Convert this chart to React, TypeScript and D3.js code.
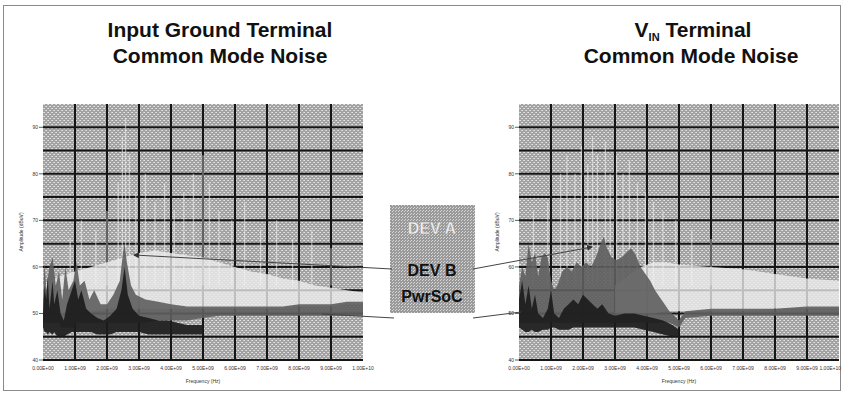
import * as d3 from 'd3'

// [frequency GHz, low dB, high dB]
type Band = [number, number, number]
// [frequency GHz, peak dB]
type Spike = [number, number]

const freqTicks = [
  '0.00E+00', '1.00E+09', '2.00E+09', '3.00E+09', '4.00E+09', '5.00E+09',
  '6.00E+09', '7.00E+09', '8.00E+09', '9.00E+09', '1.00E+10',
]
const dbTicks = [40, 50, 60, 70, 80, 90]
const legendNames = ['DEV A', 'DEV B', 'PwrSoC']

const leftDevA: Band[] = [
  [0.0, 50, 56], [0.5, 50, 58], [1.0, 50, 59], [1.5, 50.5, 60], [2.0, 51, 61],
  [2.5, 51, 62], [3.0, 51, 63], [3.5, 51, 63.5], [4.0, 51, 63], [4.5, 51, 62.5],
  [5.0, 51, 62], [5.5, 51, 61], [6.0, 51, 60], [6.5, 51, 59], [7.0, 51, 58.5],
  [7.5, 51, 57.5], [8.0, 51.5, 57], [8.5, 51.5, 56], [9.0, 51.5, 55.5],
  [9.5, 52, 55], [10, 52, 54.5],
]
const leftDevASpikes: Spike[] = [
  [0.85, 66], [1.2, 70], [1.65, 68], [2.0, 72], [2.35, 78], [2.48, 88], [2.58, 92],
  [2.7, 84], [2.9, 76], [3.2, 80], [3.5, 74], [3.8, 78], [4.1, 72], [4.4, 76],
  [4.7, 80], [5.0, 84], [5.2, 78], [5.5, 72], [5.9, 70], [6.3, 74], [6.8, 68],
  [7.3, 70], [7.8, 66], [8.4, 68], [9.0, 64],
]
const leftDevB: Band[] = [
  [0.0, 48, 53], [0.05, 48, 61], [0.1, 48, 55], [0.2, 48, 60], [0.3, 48, 62],
  [0.4, 48, 56], [0.5, 48, 59], [0.6, 47, 53], [0.7, 47, 60], [0.8, 47, 55],
  [0.95, 47, 57], [1.05, 48, 61], [1.15, 48, 56], [1.3, 48, 57], [1.45, 48, 53],
  [1.6, 48, 55], [1.8, 48, 52], [2.0, 48, 52], [2.2, 48, 54], [2.4, 48, 57],
  [2.5, 48, 63], [2.55, 48, 65], [2.62, 48, 61], [2.75, 48, 56], [2.9, 48, 54],
  [3.2, 48, 53], [3.6, 48.5, 52.5], [4.0, 48.5, 52], [4.5, 48.5, 51.5],
  [5.0, 49, 51.5], [5.5, 49.5, 51.5], [6.0, 49.5, 51.5], [6.5, 49.5, 51.5],
  [7.0, 49.5, 51.5], [7.5, 49.5, 51.5], [8.0, 49.5, 52], [8.5, 49.5, 52],
  [9.0, 49.5, 52], [9.5, 49.5, 52.5], [10, 49.5, 52.5],
]
const leftPwrSoC: Band[] = [
  [0.0, 47, 50], [0.05, 46, 56], [0.1, 46, 53], [0.15, 45.5, 58], [0.2, 46, 51],
  [0.3, 45.5, 57], [0.35, 46, 52], [0.45, 45, 55], [0.55, 45, 50], [0.65, 45, 48.5],
  [0.75, 45.5, 52], [0.9, 46, 55], [1.0, 46, 57], [1.1, 46, 53], [1.2, 46, 55],
  [1.35, 46, 51], [1.5, 46, 50], [1.7, 45.5, 49], [1.9, 45.5, 48.5], [2.1, 45.5, 49.5],
  [2.3, 46, 51], [2.45, 46, 55], [2.55, 46, 60], [2.65, 46, 54], [2.8, 46, 51],
  [3.0, 46, 49.5], [3.3, 45.5, 49], [3.6, 45.5, 48.5], [3.9, 45.5, 48.5],
  [4.2, 45.5, 48], [4.5, 45.5, 47.5], [4.8, 45.5, 47.5], [5.0, 45.5, 47.5],
]

const rightDevA: Band[] = [
  [3.0, 50, 56], [3.4, 50, 58], [3.8, 50, 60], [4.2, 50, 61], [4.6, 50.5, 61],
  [5.0, 50.5, 60.5], [6.0, 50.5, 60], [7.0, 50.5, 59.5], [8.0, 51, 58.5],
  [9.0, 51, 57.5], [10, 51, 57],
]
const rightDevASpikes: Spike[] = [
  [0.45, 72], [0.9, 74], [1.3, 80], [1.5, 84], [1.75, 80], [1.95, 86], [2.15, 82],
  [2.3, 88], [2.45, 84], [2.7, 87], [2.85, 80], [3.05, 84], [3.25, 80], [3.45, 83],
  [3.7, 78], [3.95, 76], [4.2, 74], [4.5, 72], [4.9, 70], [5.4, 68], [6.0, 66],
]
const rightDevB: Band[] = [
  [0.0, 48, 56], [0.1, 48, 60], [0.2, 48, 58], [0.3, 48, 65], [0.4, 48, 61],
  [0.5, 48, 63], [0.6, 48, 58], [0.7, 48, 62], [0.8, 48, 63], [0.9, 48, 62],
  [1.0, 48, 57], [1.1, 48, 55], [1.2, 48, 56], [1.35, 48, 59], [1.5, 48, 60],
  [1.65, 48, 59], [1.8, 48, 61], [1.95, 48, 60], [2.1, 48, 61], [2.25, 48, 60],
  [2.4, 48, 62], [2.55, 48, 65], [2.65, 48, 66.5], [2.75, 48, 64], [2.9, 48, 62],
  [3.05, 48, 61.5], [3.2, 48, 62], [3.35, 48, 63], [3.5, 48, 64], [3.65, 48, 62.5],
  [3.8, 48, 60], [3.95, 48, 58.5], [4.1, 48, 57], [4.25, 48, 55], [4.4, 48, 53.5],
  [4.55, 48, 52], [4.7, 48, 50.5], [4.85, 47.5, 49.5], [5.0, 47, 48.5],
  [5.2, 49, 50.5], [6.0, 49.5, 51], [7.0, 49.5, 51], [8.0, 49.5, 51],
  [9.0, 49.5, 51.5], [10, 49.5, 51.5],
]
const rightPwrSoC: Band[] = [
  [0.0, 47, 53], [0.1, 46.5, 57], [0.2, 46, 52], [0.3, 46, 56], [0.4, 46.5, 51],
  [0.5, 46, 54], [0.6, 46, 50], [0.75, 46.5, 49], [0.9, 46.5, 51], [1.0, 47, 55],
  [1.1, 47, 50], [1.25, 46.5, 49], [1.4, 46.5, 51], [1.55, 46.5, 52], [1.7, 47, 53],
  [1.85, 47, 52], [2.0, 47, 54], [2.15, 47, 53], [2.3, 47, 52], [2.45, 47, 51],
  [2.6, 47, 52], [2.8, 47, 50], [3.0, 47, 49.5], [3.3, 47, 50], [3.6, 47, 50],
  [3.9, 46.5, 49.5], [4.2, 46, 49], [4.5, 45.5, 48.5], [4.8, 45, 47.5], [5.0, 45, 46.5],
]

const FONT = '"Liberation Sans", Arial, sans-serif'
const PLOT_W = 320
const PLOT_TOP = 104
const PLOT_BOTTOM = 360

type ChartProps = {
  x0: number
  devA: Band[]
  devASpikes: Spike[]
  devB: Band[]
  pwrSoc: Band[]
}

const Chart = ({ x0, devA, devASpikes, devB, pwrSoc }: ChartProps) => {
  const x = d3.scaleLinear().domain([0, 10]).range([x0, x0 + PLOT_W])
  const y = d3.scaleLinear().domain([40, 95]).range([PLOT_BOTTOM, PLOT_TOP])
  const area = d3
    .area<Band>()
    .x(d => x(d[0]))
    .y0(d => y(d[1]))
    .y1(d => y(d[2]))

  const gridY = d3.range(45, 95, 5)
  const gridX = d3.range(1, 10)

  return (
    <g>
      <rect
        x={x0}
        y={PLOT_TOP}
        width={PLOT_W}
        height={PLOT_BOTTOM - PLOT_TOP}
        fill="url(#dither)"
      />
      {gridY.map(v => (
        <line key={'h' + v} x1={x0} x2={x0 + PLOT_W} y1={y(v)} y2={y(v)} stroke="#151515" strokeWidth={2} />
      ))}
      {gridX.map(v => (
        <line key={'v' + v} x1={x(v)} x2={x(v)} y1={PLOT_TOP} y2={PLOT_BOTTOM} stroke="#151515" strokeWidth={2} />
      ))}
      <path d={area(devA) ?? ''} fill="#eeeeee" opacity={0.78} />
      {devASpikes.map((s, i) => (
        <line
          key={i}
          x1={x(s[0])}
          x2={x(s[0])}
          y1={y(56)}
          y2={y(s[1])}
          stroke="#f2f2f2"
          strokeWidth={1.3}
          opacity={0.55}
        />
      ))}
      <path d={area(devB) ?? ''} fill="#5e5e5e" opacity={0.9} />
      <path d={area(pwrSoc) ?? ''} fill="#1c1c1c" opacity={0.92} />
      <line x1={x0} x2={x0 + PLOT_W} y1={PLOT_BOTTOM} y2={PLOT_BOTTOM} stroke="#151515" strokeWidth={2} />
      {dbTicks.map(v => (
        <g key={'t' + v}>
          <line x1={x0 - 4} x2={x0} y1={y(v)} y2={y(v)} stroke="#333" strokeWidth={0.8} />
          <text x={x0 - 5} y={y(v) + 1.8} fontSize={5} textAnchor="end" fill="#333" fontFamily={FONT}>
            {v}
          </text>
        </g>
      ))}
      {freqTicks.map((t, i) => {
        const tx = x(i)
        const atEdge = tx + 11 > 841
        return (
          <text
            key={t}
            x={atEdge ? 841 : tx}
            y={370}
            fontSize={5}
            textAnchor={atEdge ? 'end' : 'middle'}
            fill="#333"
            fontFamily={FONT}
          >
            {t}
          </text>
        )
      })}
      <text x={x(5)} y={383} fontSize={5} textAnchor="middle" fill="#333" fontFamily={FONT}>
        Frequency (Hz)
      </text>
      <text
        transform={`translate(${x0 - 20},${(PLOT_TOP + PLOT_BOTTOM) / 2}) rotate(-90)`}
        fontSize={5}
        textAnchor="middle"
        fill="#333"
        fontFamily={FONT}
      >
        Amplitude (dBuV)
      </text>
    </g>
  )
}

const App = () => {
  return (
    <svg width={844} height={393} style={{ position: 'absolute', left: 0, top: 0 }}>
      <defs>
        <pattern id="dither" width={4} height={4} patternUnits="userSpaceOnUse">
          <rect width={4} height={4} fill="#a2a2a2" />
          <rect x={0} y={0} width={1} height={1} fill="#e4e4e4" />
          <rect x={2} y={2} width={1} height={1} fill="#e4e4e4" />
          <rect x={1} y={2} width={1} height={1} fill="#cfcfcf" />
          <rect x={3} y={0} width={1} height={1} fill="#cfcfcf" />
        </pattern>
        <pattern id="dither2" width={3} height={3} patternUnits="userSpaceOnUse">
          <rect width={3} height={3} fill="#9a9a9a" />
          <rect x={0} y={0} width={1} height={1} fill="#d6d6d6" />
          <rect x={2} y={1} width={1} height={1} fill="#d6d6d6" />
        </pattern>
        <marker id="arrow" viewBox="0 0 6 6" refX={5} refY={3} markerWidth={6} markerHeight={6} orient="auto">
          <path d="M0,0 L6,3 L0,6 Z" fill="#333" />
        </marker>
      </defs>
      <rect width={844} height={393} fill="#fff" />
      <rect x={3.5} y={5.5} width={837} height={385} fill="none" stroke="#8a8a8a" strokeWidth={1} />

      <g fontFamily={FONT} fontWeight="bold" fontSize={21} fill="#111" textAnchor="middle">
        <text x={220} y={37}>Input Ground Terminal</text>
        <text x={220} y={63}>Common Mode Noise</text>
        <text x={693} y={37}>
          V<tspan fontSize={11} dy={4}>IN</tspan>
          <tspan dy={-4}> Terminal</tspan>
        </text>
        <text x={691} y={63}>Common Mode Noise</text>
      </g>

      <Chart x0={43} devA={leftDevA} devASpikes={leftDevASpikes} devB={leftDevB} pwrSoc={leftPwrSoC} />
      <Chart x0={519} devA={rightDevA} devASpikes={rightDevASpikes} devB={rightDevB} pwrSoc={rightPwrSoC} />

      <rect x={390} y={205} width={85} height={108} fill="url(#dither2)" />
      <g fontFamily={FONT} fontWeight="bold" fontSize={16} textAnchor="middle">
        <text x={432} y={234} fill="#f4f4f4" stroke="#888" strokeWidth={0.4}>
          {legendNames[0]}
        </text>
        <text x={432} y={276} fill="#111">
          {legendNames[1]}
        </text>
        <text x={432} y={302} fill="#111">
          {legendNames[2]}
        </text>
      </g>

      <g stroke="#444" strokeWidth={1} fill="none">
        <line x1={392} y1={269} x2={134} y2={255} markerEnd="url(#arrow)" />
        <line x1={394} y1={318} x2={322} y2={314} />
        <line x1={473} y1={269} x2={592} y2={247} markerEnd="url(#arrow)" />
        <line x1={473} y1={318} x2={521} y2={312} />
      </g>
    </svg>
  )
}

export default App
